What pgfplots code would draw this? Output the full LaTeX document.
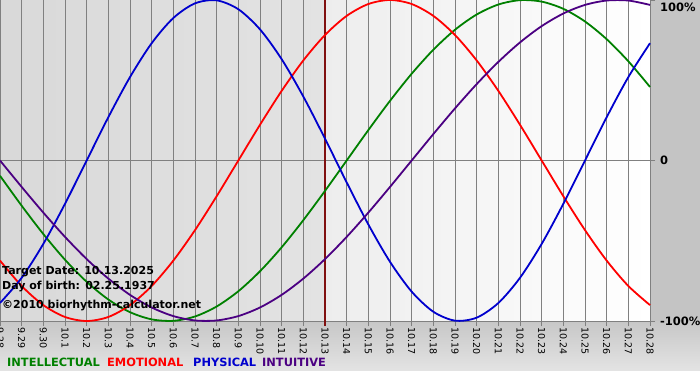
\documentclass[border=0pt]{standalone}
\usepackage{pgfplots}
\pgfplotsset{compat=1.18}
\usepackage{pgfplotstable}
\usepackage{fontspec}
\setmainfont{DejaVu Sans}
\definecolor{cInt}{RGB}{0,128,0}
\definecolor{cEmo}{RGB}{255,0,0}
\definecolor{cPhy}{RGB}{0,0,205}
\definecolor{cIntu}{RGB}{75,0,130}
\definecolor{cTarget}{RGB}{128,16,16}
\definecolor{gridgray}{RGB}{128,128,128}

\pgfplotstableread{
i int emo phy intu
0 -0.0951 -0.6235 -0.8879 0
1 -0.2817 -0.7818 -0.7308 -0.1646
2 -0.4582 -0.9010 -0.5196 -0.3247
3 -0.6182 -0.9749 -0.2698 -0.4759
4 -0.7557 -1 0 -0.6142
5 -0.8660 -0.9749 0.2698 -0.7357
6 -0.9450 -0.9010 0.5196 -0.8372
7 -0.9898 -0.7818 0.7308 -0.9158
8 -0.9989 -0.6235 0.8879 -0.9694
9 -0.9718 -0.4339 0.9791 -0.9966
10 -0.9096 -0.2225 0.9977 -0.9966
11 -0.8146 0 0.9423 -0.9694
12 -0.6901 0.2225 0.8170 -0.9158
13 -0.5406 0.4339 0.6311 -0.8372
14 -0.3717 0.6235 0.3984 -0.7357
15 -0.1893 0.7818 0.1362 -0.6142
16 0 0.9010 -0.1362 -0.4759
17 0.1893 0.9749 -0.3984 -0.3247
18 0.3717 1 -0.6311 -0.1646
19 0.5406 0.9749 -0.8170 0
20 0.6901 0.9010 -0.9423 0.1646
21 0.8146 0.7818 -0.9977 0.3247
22 0.9096 0.6235 -0.9791 0.4759
23 0.9718 0.4339 -0.8879 0.6142
24 0.9989 0.2225 -0.7308 0.7357
25 0.9898 0 -0.5196 0.8372
26 0.9450 -0.2225 -0.2698 0.9158
27 0.8660 -0.4339 0 0.9694
28 0.7557 -0.6235 0.2698 0.9966
29 0.6182 -0.7818 0.5196 0.9966
30 0.4582 -0.9010 0.7308 0.9694
}\bio

\begin{document}
\begin{tikzpicture}[x=1pt,y=1pt]
\path[use as bounding box] (0,0) rectangle (700,380);
\fill[white] (0,0) rectangle (700,380);
\fill[black!23] (0,59) rectangle (700,380);
\shade[top color=black!22, bottom color=black!11] (0,10) rectangle (700,59);
\shade[left color=black!15, right color=black!11] (0,59) rectangle (325,380);
\shade[left color=black!7, right color=white] (325,59) rectangle (650,380);
\begin{axis}[
  at={(0pt,59pt)}, anchor=south west,
  scale only axis, width=650pt, height=321pt,
  xmin=0, xmax=30, ymin=-1, ymax=1,
  clip=false,
  axis x line*=bottom, axis y line*=right,
  axis line style={-, draw=gridgray, line width=0.8pt},
  xtick={0,...,30},
  xticklabels={9.28,9.29,9.30,10.1,10.2,10.3,10.4,10.5,10.6,10.7,10.8,10.9,10.10,10.11,10.12,10.13,10.14,10.15,10.16,10.17,10.18,10.19,10.20,10.21,10.22,10.23,10.24,10.25,10.26,10.27,10.28},
  xticklabel style={rotate=-90, anchor=west, font=\fontsize{9.5}{9.5}\selectfont, inner sep=1pt},
  ytick={-1,0},
  yticklabels={-100\%,0},
  yticklabel style={anchor=west, font=\bfseries\fontsize{11.5}{11.5}\selectfont, inner sep=2pt, xshift=3pt},
  extra y ticks={1},
  extra y tick labels={100\%},
  extra y tick style={grid=none, yticklabel style={yshift=-7pt}},
  extra x ticks={15},
  extra x tick labels={},
  extra x tick style={grid=major, major grid style={draw=cTarget, line width=2pt}, major tick style={draw=cTarget, line width=2pt}},
  xmajorgrids, ymajorgrids,
  major grid style={draw=gridgray, line width=0.8pt},
  tick align=outside, major tick length=5pt,
  tick style={draw=gridgray, line width=0.8pt},
  every axis plot/.append style={line width=1.8pt, smooth, no markers},
]
\addplot[cInt] table[x=i, y=int] {\bio};
\addplot[cEmo] table[x=i, y=emo] {\bio};
\addplot[cPhy] table[x=i, y=phy] {\bio};
\addplot[cIntu] table[x=i, y=intu] {\bio};
\end{axis}
\begin{scope}[every node/.style={anchor=west, inner sep=0pt, font=\bfseries\fontsize{11}{11}\selectfont}]
\node at (2,108) {Target Date: 10.13.2025};
\node at (2,93) {Day of birth: 02.25.1937};
\node at (2,74) {©2010 biorhythm-calculator.net};
\node[text=cInt, font=\bfseries\fontsize{11.4}{11.4}\selectfont] at (7,18) {INTELLECTUAL};
\node[text=cEmo, font=\bfseries\fontsize{11.4}{11.4}\selectfont] at (107,18) {EMOTIONAL};
\node[text=cPhy, font=\bfseries\fontsize{11.4}{11.4}\selectfont] at (193,18) {PHYSICAL};
\node[text=cIntu, font=\bfseries\fontsize{11.4}{11.4}\selectfont] at (262,18) {INTUITIVE};
\end{scope}
\end{tikzpicture}
\end{document}
